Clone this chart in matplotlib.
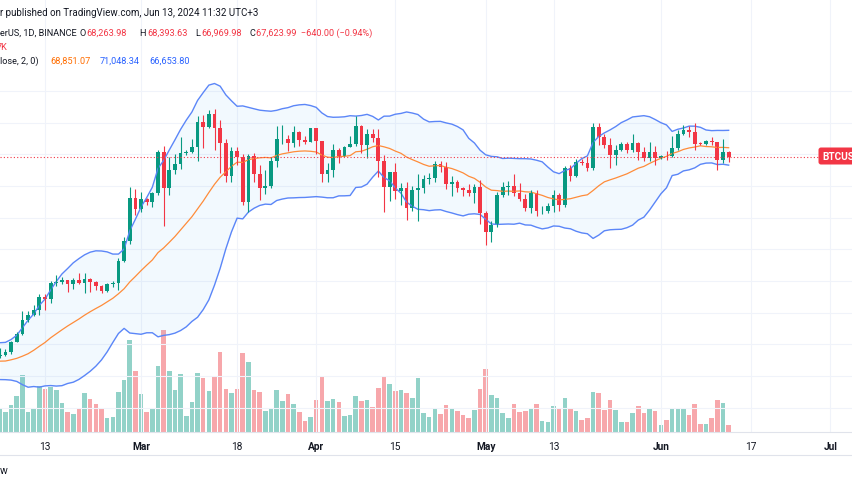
import numpy as np
import pandas as pd
import matplotlib.pyplot as plt
import matplotlib.dates as mdates
from matplotlib.lines import Line2D

plt.rcParams['font.family'] = ['Roboto', 'DejaVu Sans']

# daily candles, Feb 5 .. Jun 13 2024
dates = pd.date_range('2024-02-05', '2024-06-13', freq='D')

# closes before the first visible candle (needed for the 20-day bands)
prior_close = [42740, 41260, 41620, 41660, 41580, 39540, 39880, 40080, 39930, 41820,
               42120, 42030, 43300, 42940, 42580, 43080, 43190, 42990, 42580]

open_ = [42580, 42660, 43085, 44340, 45290, 47130, 47750, 48290, 49950, 49700,
         51810, 51910, 52130, 51650, 52120, 51780, 52260, 51850, 51320, 50730,
         51570, 51730, 54480, 57040, 62430,
         61130, 62390, 62030, 63130, 68250, 63720, 66070, 66810, 68170, 68350,
         68950, 72120, 71450, 73070, 71390, 69400, 65300, 68390, 67610, 61930,
         67850, 65490, 63780, 64050, 67210, 69880, 69990, 69450, 70780, 69850,
         69580,
         71280, 69650, 65460, 65960, 68490, 67840, 68900, 69360, 71620, 69140,
         70590, 70060, 67190, 63920, 65720, 63410, 63810, 61270, 63460, 63760,
         64940, 64960, 66840, 66410, 64280, 64500, 63770, 63460, 63120, 63840,
         60610, 58250, 59120, 62890, 63890, 64030, 63160, 62330, 61190, 63070,
         60790, 60830, 61450, 62900, 61550, 66230, 65230, 67040, 66940, 66280,
         71450, 70140, 69120, 67930, 68530, 69280, 68500, 69390, 68350, 67580,
         68350,
         67530, 67760, 67740, 68810, 70570, 71080, 70760, 69340, 69300, 69650,
         69510, 67320, 68264]

high = [43500, 43400, 44370, 45600, 48200, 48170, 48970, 50360, 50370, 52040,
        52820, 52570, 52190, 52360, 52980, 52990, 52370, 52060, 51550, 51700,
        51950, 54940, 57590, 63910, 63680,
        63230, 62480, 63220, 68500, 69000, 67630, 67990, 70130, 68590, 70000,
        72800, 72920, 73650, 73780, 72360, 70000, 68880, 68920, 68100, 68100,
        68200, 66650, 65980, 67620, 71560, 71730, 70400, 71550, 70900, 70320,
        71370,
        71290, 69680, 66910, 69290, 68740, 69000, 70330, 72800, 71750, 71180,
        71260, 71230, 67930, 65830, 66900, 64360, 64490, 64000, 65480, 65450,
        65700, 67200, 67210, 67070, 65300, 64790, 63900, 64300, 64200, 64720,
        60800, 59600, 63300, 64500, 64640, 65500, 64400, 62980, 63450, 63470,
        61450, 61820, 63450, 63100, 66500, 66700, 67400, 67450, 67700, 71930,
        71950, 70620, 70100, 69220, 69570, 69500, 70600, 69550, 68900, 69500,
        69000,
        67900, 68400, 70280, 71060, 71760, 71630, 71990, 69560, 69850, 70150,
        69560, 69990, 68394]

low = [42260, 42570, 42790, 44330, 45240, 46800, 47550, 47710, 48300, 49220,
       51320, 51580, 50630, 51020, 51680, 50520, 50630, 50920, 50520, 50590,
       51280, 50900, 54450, 56700, 60360,
       60770, 61600, 61320, 62870, 59000, 62850, 65550, 66200, 67890, 68190,
       67200, 68850, 71340, 68550, 65630, 64550, 64550, 66600, 61540, 60780,
       64530, 62260, 63000, 63790, 66380, 69280, 68360, 68900, 69010, 69320,
       69540,
       68060, 64490, 64490, 65090, 66940, 67750, 68870, 69110, 68210, 67520,
       69560, 65110, 60660, 62100, 62300, 61620, 59770, 60800, 59600, 63150,
       64280, 64500, 65800, 63600, 62800, 63300, 62790, 62800, 61800, 59190,
       56550, 56900, 58800, 62600, 62850, 62700, 62120, 60800, 60650, 60200,
       60490, 60620, 60750, 60900, 61330, 64600, 65120, 66600, 65860, 66080,
       69170, 68800, 66300, 66630, 68480, 68230, 68240, 67230, 67100, 67140,
       66670,
       67440, 67320, 67610, 68560, 70380, 70130, 68500, 69220, 69130, 69230,
       66050, 66900, 66970]

close = [42660, 43085, 44340, 45290, 47130, 47750, 48290, 49950, 49700, 51810,
         51910, 52130, 51650, 52120, 51780, 52260, 51850, 51320, 50730, 51570,
         51730, 54480, 57040, 62430, 61130,
         62390, 62030, 63130, 68250, 63720, 66070, 66810, 68170, 68350, 68950,
         72120, 71450, 73070, 71390, 69400, 65300, 68390, 67610, 61930, 67850,
         65490, 63780, 64050, 67210, 69880, 69990, 69450, 70780, 69850, 69580,
         71280,
         69650, 65460, 65960, 68490, 67840, 68900, 69360, 71620, 69140, 70590,
         70060, 67190, 63920, 65720, 63410, 63810, 61270, 63460, 63760, 64940,
         64960, 66840, 66410, 64280, 64500, 63770, 63460, 63120, 63840, 60610,
         58250, 59120, 62890, 63890, 64030, 63160, 62330, 61190, 63070, 60790,
         60830, 61450, 62900, 61550, 66230, 65230, 67040, 66940, 66280, 71450,
         70140, 69120, 67930, 68530, 69280, 68500, 69390, 68350, 67580, 68350,
         67530,
         67760, 67740, 68810, 70570, 71080, 70760, 69340, 69300, 69650, 69510,
         67320, 68264, 67624]

# volume, read as relative bar heights
volume = [23, 19.7, 27, 36, 57, 19.7, 23.3, 46, 43, 45, 41.7, 29, 20, 18, 23.3,
          39, 33, 27.7, 24.3, 13.7, 15, 40, 52, 91.7, 61,
          37.7, 20, 22.7, 66.3, 102.3, 61, 41.7, 58, 16.3, 30, 59, 54, 40.7,
          55.7, 80, 43, 39.3, 43, 78.7, 70, 41.7, 39.7, 21, 24.3, 41.7, 30.7,
          38, 27.7, 20, 11, 15,
          32.3, 55.3, 30.7, 32.7, 30, 16, 17, 36, 31, 32.3, 25, 44, 55.7, 48,
          40.7, 41.7, 39, 34, 54, 18.7, 15.3, 24.3, 18, 27, 24.3, 21, 17, 13.7,
          22, 43,
          63, 37.3, 34, 19.3, 14.3, 27.7, 20, 21, 24, 28.3, 11, 10.3, 26, 22.7,
          34, 24.3, 21, 12, 14.3, 39.7, 39, 22, 31.7, 22, 9.7, 9.7, 18.7, 26,
          18.7, 22.7, 21,
          7, 12, 23.3, 23.3, 22.7, 17, 27.7, 8, 8, 13.7, 32.3, 29, 7]

tick_dates = ['2024-02-13', '2024-03-01', '2024-03-18', '2024-04-01', '2024-04-15',
              '2024-05-01', '2024-05-13', '2024-06-01', '2024-06-17', '2024-07-01']
tick_labels = ['13', 'Mar', '18', 'Apr', '15', 'May', '13', 'Jun', '17', 'Jul']
price_levels = list(range(36000, 80000, 4000))
last_price = 67623.99

GREEN = '#089981'
RED = '#F23645'
TEXT = '#131722'

# Bollinger Bands (20, close, 2)
closes_all = pd.Series(prior_close + close, dtype=float)
basis = closes_all.rolling(20).mean().values[-len(close):]
dev = closes_all.rolling(20).std(ddof=0).values[-len(close):]
upper = basis + 2 * dev
lower = basis - 2 * dev

W, H = 852, 485
fig = plt.figure(figsize=(W / 100, H / 100), dpi=100)
fig.patch.set_facecolor('white')

pane_bottom = 433
rect = [0, 1 - pane_bottom / H, 1, pane_bottom / H]
ax_vol = fig.add_axes(rect)
ax = fig.add_axes(rect, sharex=ax_vol)
ax.patch.set_visible(False)

x = mdates.date2num(dates)
o = np.array(open_, dtype=float)
c = np.array(close, dtype=float)
up = c >= o

# volume
vol_colors = np.where(up, '#92D2C8', '#F7A7AB')
ax_vol.bar(x, volume, width=0.8, color=vol_colors, linewidth=0)
ax_vol.set_ylim(0, pane_bottom)
ax_vol.axis('off')

# bands
ax.fill_between(x, lower, upper, color='#2196F3', alpha=0.055, linewidth=0)
ax.plot(x, upper, color='#5B86F8', lw=1.0)
ax.plot(x, lower, color='#5B86F8', lw=1.0)
ax.plot(x, basis, color='#FF8C3A', lw=0.9)

# candles
cndl = np.where(up, GREEN, RED)
ax.vlines(x, low, high, colors=cndl, lw=0.8)
ax.bar(x, np.maximum(np.abs(c - o), 110), bottom=np.minimum(o, c), width=0.66,
       color=cndl, linewidth=0)

ax.axhline(last_price, color=RED, lw=0.8, ls=(0, (1, 2)))

feb13 = mdates.date2num(pd.Timestamp('2024-02-13'))
ax.set_xlim(feb13 - 45 / 5.65, feb13 + (W - 45) / 5.65)
ax.set_ylim(76000 - (pane_bottom - 92) * 126.3, 76000 + 92 * 126.3)

ax.set_yticks(price_levels)
ax.set_xticks(mdates.date2num(pd.to_datetime(tick_dates)))
ax.set_xticklabels(tick_labels)
ax.grid(True, color='#F0F3FA', lw=0.8)
ax.set_axisbelow(True)
ax.tick_params(axis='y', left=False, labelleft=False)
ax.tick_params(axis='x', length=0, pad=6.5, labelsize=7.3, labelcolor=TEXT)
for lbl in ax.get_xticklabels():
    if lbl.get_text().isalpha():
        lbl.set_fontweight('bold')
for s in ax.spines.values():
    s.set_visible(False)

for yy in (433, 456):
    fig.add_artist(Line2D([0, 1], [1 - yy / H, 1 - yy / H], transform=fig.transFigure,
                          color='#E0E3EB', lw=0.8))


def put(xp, yp, s, color=TEXT, size=6.6, **kw):
    fig.text(xp / W, 1 - yp / H, s, color=color, fontsize=size, va='center', ha='left', **kw)


put(0.5, 13, 'r published on TradingView.com, Jun 13, 2024 11:32 UTC+3', size=7)
put(0, 33, 'erUS, 1D, BINANCE')
put(79.5, 33, 'O')
put(86, 33, '68,263.98', RED)
put(139.5, 33, 'H')
put(147, 33, '68,393.63', RED)
put(195.5, 33, 'L')
put(201, 33, '66,969.98', RED)
put(249, 33, 'C')
put(255.5, 33, '67,623.99  \u2212640.00 (\u22120.94%)', RED)
put(-3, 47, '7K', RED)
put(0, 61, 'lose, 2, 0)')
put(50, 61, '68,851.07', '#FF6D00')
put(100, 61, '71,048.34', '#2962FF')
put(149, 61, '66,653.80', '#2962FF')
put(-0.5, 471, 'w', size=7.5)

fig.text(822 / W, 1 - 157 / H, 'BTCUSD', color='white', fontsize=7.2, va='center',
         ha='left', fontweight='bold',
         bbox=dict(boxstyle='round,pad=0.35,rounding_size=0.25', fc=RED, ec='none'))

fig.savefig('out.png', dpi=100, facecolor='white')
